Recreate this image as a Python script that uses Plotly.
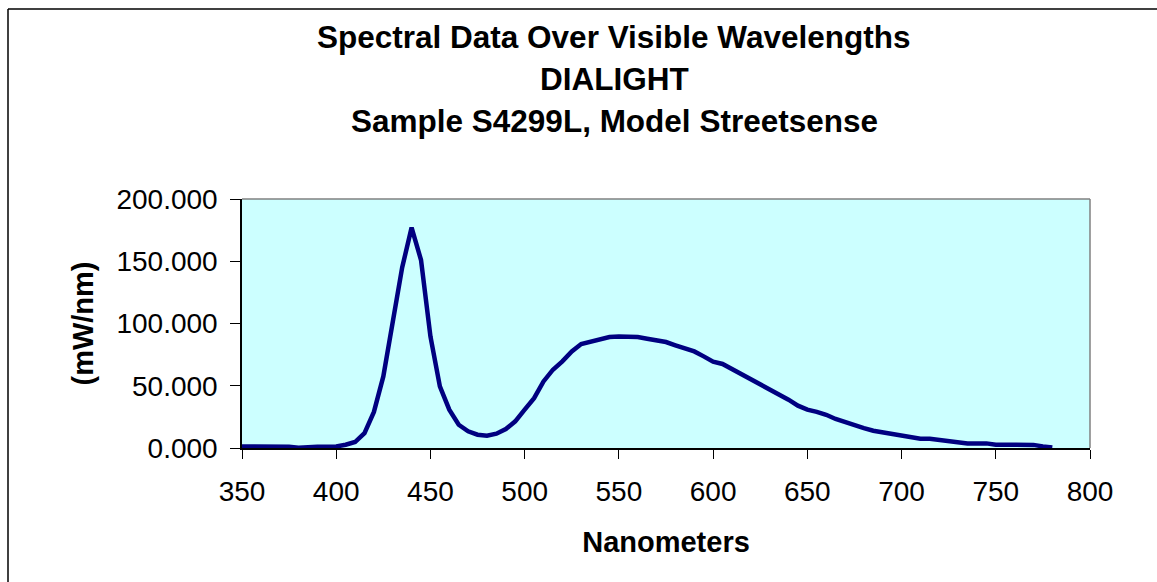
import plotly.graph_objects as go

wavelengths = list(range(350, 785, 5))
power = [1.3, 1.3, 0.5, 1.0, 1.0, 1.0, 0.3, 1.0, 1.0, 1.0,
         1.2, 2.6, 4.8, 12.0, 29.0, 57.5, 99.0, 145.0, 177.0, 151.0,
         89.6, 49.5, 30.8, 18.7, 13.4, 10.7, 9.9, 11.5, 15.2, 21.4,
         30.8, 40.0, 53.5, 62.9, 69.6, 77.6, 83.5, 85.6, 87.8, 89.2,
         89.6, 89.6, 89.2, 87.8, 86.5, 85.1, 82.5, 80.3, 77.6, 73.6,
         69.3, 67.5, 63.4, 58.9, 54.9, 50.8, 46.8, 43.4, 38.8, 34.0,
         30.8, 29.0, 26.7, 23.3, 20.6, 17.9, 16.0, 13.9, 12.5, 11.2,
         9.9, 8.8, 7.5, 7.5, 6.4, 5.3, 5.0, 3.7, 3.7, 3.7,
         2.6, 2.6, 2.6, 2.6, 2.5, 1.3, 0.5]

title_lines = ["Spectral Data Over Visible Wavelengths", "DIALIGHT",
               "Sample S4299L, Model Streetsense"]
x_title = "Nanometers"
y_title = "(mW/nm)"

W, H = 1157, 582
L, R, T, B = 242, 67, 199, 134
PW, PH = W - L - R, H - T - B

def px(x):
    return (x - L) / PW

def py(y):
    return (H - B - y) / PH

FONT = "Liberation Sans, Arial, sans-serif"

fig = go.Figure()
fig.add_trace(go.Scatter(x=wavelengths, y=power, mode="lines",
                         line=dict(color="#000080", width=4.5),
                         showlegend=False))

annotations = []
for line, yc in zip(title_lines, [36.5, 78.5, 121]):
    annotations.append(dict(text="<b>%s</b>" % line, x=px(614), y=py(yc),
                            xref="paper", yref="paper", xanchor="center",
                            yanchor="middle", showarrow=False,
                            font=dict(family=FONT, size=31.5, color="black")))

shapes = [
    dict(type="line", xref="paper", yref="paper", x0=px(8), x1=px(1160),
         y0=py(9), y1=py(9), line=dict(color="black", width=1.5)),
    dict(type="line", xref="paper", yref="paper", x0=px(8), x1=px(8),
         y0=py(9), y1=py(590), line=dict(color="black", width=1.5)),
    dict(type="line", xref="paper", yref="paper", x0=0, x1=1, y0=1, y1=1,
         line=dict(color="#808080", width=1.5)),
    dict(type="line", xref="paper", yref="paper", x0=1, x1=1, y0=0, y1=1,
         line=dict(color="#808080", width=1.5)),
]

fig.update_layout(
    width=W, height=H,
    margin=dict(l=L, r=R, t=T, b=B, pad=0),
    paper_bgcolor="white", plot_bgcolor="#CCFFFF",
    font=dict(family=FONT, size=28, color="black"),
    annotations=annotations, shapes=shapes,
    xaxis=dict(range=[350, 800], tick0=350, dtick=50, showgrid=False,
               zeroline=False, showline=True, linecolor="black", linewidth=1.5,
               ticks="outside", ticklen=9, tickcolor="black",
               ticklabelstandoff=9,
               tickfont=dict(size=28),
               title=dict(text="<b>%s</b>" % x_title, font=dict(size=29),
                          standoff=25)),
    yaxis=dict(range=[0, 200], tick0=0, dtick=50, tickformat=".3f",
               showgrid=False, zeroline=False, showline=True,
               linecolor="black", linewidth=1.5,
               ticks="outside", ticklen=10, tickcolor="black",
               ticklabelstandoff=7,
               tickfont=dict(size=28),
               title=dict(text="<b>%s</b>" % y_title, font=dict(size=29),
                          standoff=14)),
)

fig.write_html("out.html", config={"displayModeBar": False},
               post_script="document.body.style.margin='0';")
